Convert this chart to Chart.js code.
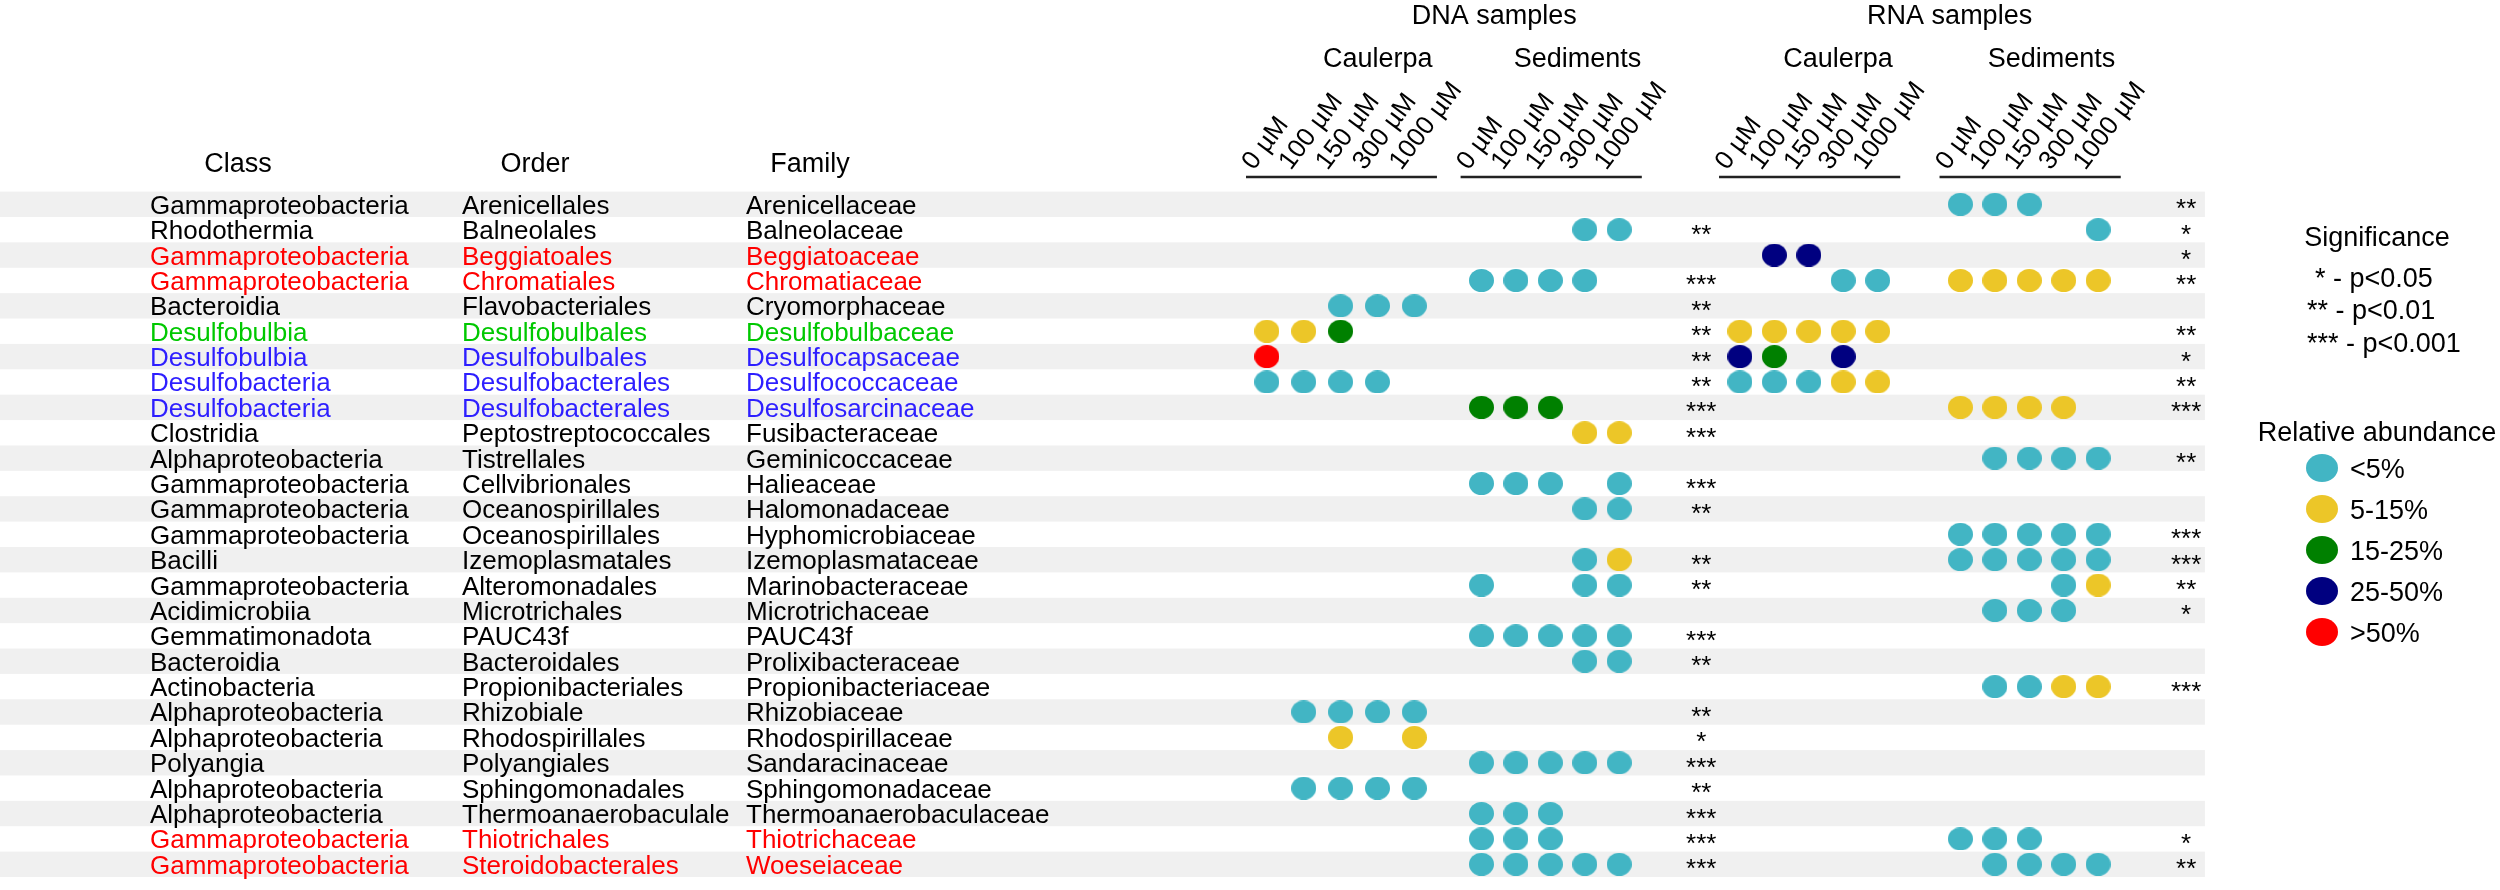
<!DOCTYPE html>
<html>
<head>
<meta charset="utf-8">
<script src="https://cdn.jsdelivr.net/npm/chart.js@4.4.1/dist/chart.umd.min.js"></script>
<style>
  html, body { margin: 0; padding: 0; background: #fff; }
  #wrap { width: 2500px; height: 890px; }
</style>
</head>
<body>
<div id="wrap"><canvas id="chart" width="2500" height="890"></canvas></div>
<script>
// rows of the table (top to bottom)
const classes = [
  'Gammaproteobacteria', 'Rhodothermia', 'Gammaproteobacteria', 'Gammaproteobacteria', 'Bacteroidia',
  'Desulfobulbia', 'Desulfobulbia', 'Desulfobacteria', 'Desulfobacteria', 'Clostridia',
  'Alphaproteobacteria', 'Gammaproteobacteria', 'Gammaproteobacteria', 'Gammaproteobacteria', 'Bacilli',
  'Gammaproteobacteria', 'Acidimicrobiia', 'Gemmatimonadota', 'Bacteroidia', 'Actinobacteria',
  'Alphaproteobacteria', 'Alphaproteobacteria', 'Polyangia', 'Alphaproteobacteria', 'Alphaproteobacteria',
  'Gammaproteobacteria', 'Gammaproteobacteria'
];
const orders = [
  'Arenicellales', 'Balneolales', 'Beggiatoales', 'Chromatiales', 'Flavobacteriales',
  'Desulfobulbales', 'Desulfobulbales', 'Desulfobacterales', 'Desulfobacterales', 'Peptostreptococcales',
  'Tistrellales', 'Cellvibrionales', 'Oceanospirillales', 'Oceanospirillales', 'Izemoplasmatales',
  'Alteromonadales', 'Microtrichales', 'PAUC43f', 'Bacteroidales', 'Propionibacteriales',
  'Rhizobiale', 'Rhodospirillales', 'Polyangiales', 'Sphingomonadales', 'Thermoanaerobaculale',
  'Thiotrichales', 'Steroidobacterales'
];
const families = [
  'Arenicellaceae', 'Balneolaceae', 'Beggiatoaceae', 'Chromatiaceae', 'Cryomorphaceae',
  'Desulfobulbaceae', 'Desulfocapsaceae', 'Desulfococcaceae', 'Desulfosarcinaceae', 'Fusibacteraceae',
  'Geminicoccaceae', 'Halieaceae', 'Halomonadaceae', 'Hyphomicrobiaceae', 'Izemoplasmataceae',
  'Marinobacteraceae', 'Microtrichaceae', 'PAUC43f', 'Prolixibacteraceae', 'Propionibacteriaceae',
  'Rhizobiaceae', 'Rhodospirillaceae', 'Sandaracinaceae', 'Sphingomonadaceae', 'Thermoanaerobaculaceae',
  'Thiotrichaceae', 'Woeseiaceae'
];
// text colour of the row ('' = black)
const rowHighlight = [
  '', '', 'red', 'red', '', 'green', 'blue', 'blue', 'blue', '',
  '', '', '', '', '', '', '', '', '', '',
  '', '', '', '', '', 'red', 'red'
];

const sampleTypes = ['DNA samples', 'RNA samples'];
const sources = ['Caulerpa', 'Sediments', 'Caulerpa', 'Sediments'];
const concentrations = ['0 µM', '100 µM', '150 µM', '300 µM', '1000 µM'];
const abundanceLabels = ['<5%', '5-15%', '15-25%', '25-50%', '>50%'];
const significanceLabels = ['* - p<0.05', '** - p<0.01', '*** - p<0.001'];

// abundance class per concentration: 0 none, 1 <5%, 2 5-15%, 3 15-25%, 4 25-50%, 5 >50%
const dnaCaulerpa = [
  [0,0,0,0,0], [0,0,0,0,0], [0,0,0,0,0], [0,0,0,0,0], [0,0,1,1,1],
  [2,2,3,0,0], [5,0,0,0,0], [1,1,1,1,0], [0,0,0,0,0], [0,0,0,0,0],
  [0,0,0,0,0], [0,0,0,0,0], [0,0,0,0,0], [0,0,0,0,0], [0,0,0,0,0],
  [0,0,0,0,0], [0,0,0,0,0], [0,0,0,0,0], [0,0,0,0,0], [0,0,0,0,0],
  [0,1,1,1,1], [0,0,2,0,2], [0,0,0,0,0], [0,1,1,1,1], [0,0,0,0,0],
  [0,0,0,0,0], [0,0,0,0,0]
];
const dnaSediments = [
  [0,0,0,0,0], [0,0,0,1,1], [0,0,0,0,0], [1,1,1,1,0], [0,0,0,0,0],
  [0,0,0,0,0], [0,0,0,0,0], [0,0,0,0,0], [3,3,3,0,0], [0,0,0,2,2],
  [0,0,0,0,0], [1,1,1,0,1], [0,0,0,1,1], [0,0,0,0,0], [0,0,0,1,2],
  [1,0,0,1,1], [0,0,0,0,0], [1,1,1,1,1], [0,0,0,1,1], [0,0,0,0,0],
  [0,0,0,0,0], [0,0,0,0,0], [1,1,1,1,1], [0,0,0,0,0], [1,1,1,0,0],
  [1,1,1,0,0], [1,1,1,1,1]
];
const rnaCaulerpa = [
  [0,0,0,0,0], [0,0,0,0,0], [0,4,4,0,0], [0,0,0,1,1], [0,0,0,0,0],
  [2,2,2,2,2], [4,3,0,4,0], [1,1,1,2,2], [0,0,0,0,0], [0,0,0,0,0],
  [0,0,0,0,0], [0,0,0,0,0], [0,0,0,0,0], [0,0,0,0,0], [0,0,0,0,0],
  [0,0,0,0,0], [0,0,0,0,0], [0,0,0,0,0], [0,0,0,0,0], [0,0,0,0,0],
  [0,0,0,0,0], [0,0,0,0,0], [0,0,0,0,0], [0,0,0,0,0], [0,0,0,0,0],
  [0,0,0,0,0], [0,0,0,0,0]
];
const rnaSediments = [
  [1,1,1,0,0], [0,0,0,0,1], [0,0,0,0,0], [2,2,2,2,2], [0,0,0,0,0],
  [0,0,0,0,0], [0,0,0,0,0], [0,0,0,0,0], [2,2,2,2,0], [0,0,0,0,0],
  [0,1,1,1,1], [0,0,0,0,0], [0,0,0,0,0], [1,1,1,1,1], [1,1,1,1,1],
  [0,0,0,1,2], [0,1,1,1,0], [0,0,0,0,0], [0,0,0,0,0], [0,1,1,2,2],
  [0,0,0,0,0], [0,0,0,0,0], [0,0,0,0,0], [0,0,0,0,0], [0,0,0,0,0],
  [1,1,1,0,0], [0,1,1,1,1]
];
const dnaSignif = [
  '', '**', '', '***', '**', '**', '**', '**', '***', '***',
  '', '***', '**', '', '**', '**', '', '***', '**', '',
  '**', '*', '***', '**', '***', '***', '***'
];
const rnaSignif = [
  '**', '*', '*', '**', '', '**', '*', '**', '***', '',
  '**', '', '', '***', '***', '**', '*', '', '', '***',
  '', '', '', '', '', '*', '**'
];

const abundanceColors = ['#42b5c4', '#ecc628', '#008000', '#000080', '#ff0000'];
const textColors = { red: '#ff0000', green: '#00c800', blue: '#2d1eff' };

// layout (x in column slots, 1 slot ~ one dot spacing)
const GROUP_START = [0, 6.17, 13.6, 19.94];
const GROUP_STEP = [1.06, 0.99, 0.99, 0.99];
const STAR_SLOT = [12.49, 26.43];
const BAND_END = 26.97;
const FONT = "'Liberation Sans', Arial, Helvetica, sans-serif";

const groups = [dnaCaulerpa, dnaSediments, rnaCaulerpa, rnaSediments];

function ellipseImage(color, w, h) {
  const c = document.createElement('canvas');
  c.width = w; c.height = h;
  const g = c.getContext('2d');
  g.fillStyle = color;
  g.beginPath();
  g.ellipse(w / 2, h / 2, w / 2, h / 2, 0, 0, Math.PI * 2);
  g.fill();
  return c;
}

const datasets = abundanceLabels.map((lab, k) => {
  const pts = [];
  groups.forEach((mat, g) => {
    mat.forEach((row, r) => {
      row.forEach((v, c) => {
        if (v === k + 1) pts.push({ x: GROUP_START[g] + GROUP_STEP[g] * c, y: r });
      });
    });
  });
  return {
    label: lab,
    data: pts,
    pointStyle: ellipseImage(abundanceColors[k], 25, 23),
    pointRadius: 12,
    backgroundColor: abundanceColors[k]
  };
});

function text(ctx, s, x, y, align, size, color) {
  ctx.font = size + 'px ' + FONT;
  ctx.textAlign = align;
  ctx.textBaseline = 'alphabetic';
  ctx.fillStyle = color || '#000';
  ctx.fillText(s, x, y);
}

const tablePlugin = {
  id: 'tableDecor',
  beforeDatasetsDraw(chart) {
    const { ctx, scales: { x, y } } = chart;
    const half = (y.getPixelForValue(1) - y.getPixelForValue(0)) / 2;
    ctx.save();
    // alternating row bands
    ctx.fillStyle = '#f0f0f0';
    families.forEach((f, i) => {
      if (i % 2) return;
      const yc = y.getPixelForValue(i);
      ctx.fillRect(0, yc - half, x.getPixelForValue(BAND_END), half * 2);
    });

    // column headers of the table
    text(ctx, 'Class', 238, 172, 'center', 27);
    text(ctx, 'Order', 535, 172, 'center', 27);
    text(ctx, 'Family', 810, 172, 'center', 27);

    // row labels and significance stars
    families.forEach((f, i) => {
      const yc = y.getPixelForValue(i);
      const col = textColors[rowHighlight[i]] || '#000';
      text(ctx, classes[i], 150, yc + 9.5, 'left', 26, col);
      text(ctx, orders[i], 462, yc + 9.5, 'left', 26, col);
      text(ctx, f, 746, yc + 9.5, 'left', 26, col);
      if (dnaSignif[i]) text(ctx, dnaSignif[i], x.getPixelForValue(STAR_SLOT[0]), yc + 13, 'center', 26);
      if (rnaSignif[i]) text(ctx, rnaSignif[i], x.getPixelForValue(STAR_SLOT[1]), yc + 13, 'center', 26);
    });

    // sample headers
    text(ctx, sampleTypes[0], x.getPixelForValue(6.54), 24, 'center', 27);
    text(ctx, sampleTypes[1], x.getPixelForValue(19.63), 24, 'center', 27);
    const srcX = [3.19, 8.93, 16.42, 22.56];
    sources.forEach((s, g) => text(ctx, s, x.getPixelForValue(srcX[g]), 67, 'center', 27));

    // concentration labels + underline per group
    ctx.strokeStyle = '#222';
    ctx.lineWidth = 2.5;
    GROUP_START.forEach((st, g) => {
      const x0 = x.getPixelForValue(st - 0.6);
      const x1 = x.getPixelForValue(st + GROUP_STEP[g] * 4 + 0.65);
      ctx.beginPath();
      ctx.moveTo(x0, 177);
      ctx.lineTo(x1, 177);
      ctx.stroke();
      concentrations.forEach((c, k) => {
        const px = x.getPixelForValue(st + GROUP_STEP[g] * k) - 13;
        ctx.save();
        ctx.translate(px, 171);
        ctx.rotate(-53 * Math.PI / 180);
        text(ctx, c, 0, 0, 'left', 26);
        ctx.restore();
      });
    });

    // legends
    text(ctx, 'Significance', 2377, 246, 'center', 27);
    const sigX = [2315, 2307, 2307];
    const sigY = [287, 319, 352];
    significanceLabels.forEach((s, k) => text(ctx, s, sigX[k], sigY[k], 'left', 27));

    text(ctx, 'Relative abundance', 2377, 441, 'center', 27);
    abundanceLabels.forEach((s, k) => {
      const cy = 468 + 41 * k;
      ctx.fillStyle = abundanceColors[k];
      ctx.beginPath();
      ctx.ellipse(2322, cy, 16, 14, 0, 0, Math.PI * 2);
      ctx.fill();
      text(ctx, s, 2350, cy + 10, 'left', 27);
    });
    ctx.restore();
  }
};

new Chart(document.getElementById('chart'), {
  type: 'scatter',
  data: { datasets },
  options: {
    responsive: false,
    animation: false,
    events: [],
    layout: { padding: { left: 0, right: 0, top: 191.6, bottom: 2.6 } },
    scales: {
      x: { type: 'linear', display: false, min: -36.05, max: 35.08 },
      y: { type: 'linear', display: false, min: -0.5, max: 26.5, reverse: true }
    },
    plugins: {
      legend: { display: false },
      tooltip: { enabled: false }
    }
  },
  plugins: [tablePlugin]
});
</script>
</body>
</html>
